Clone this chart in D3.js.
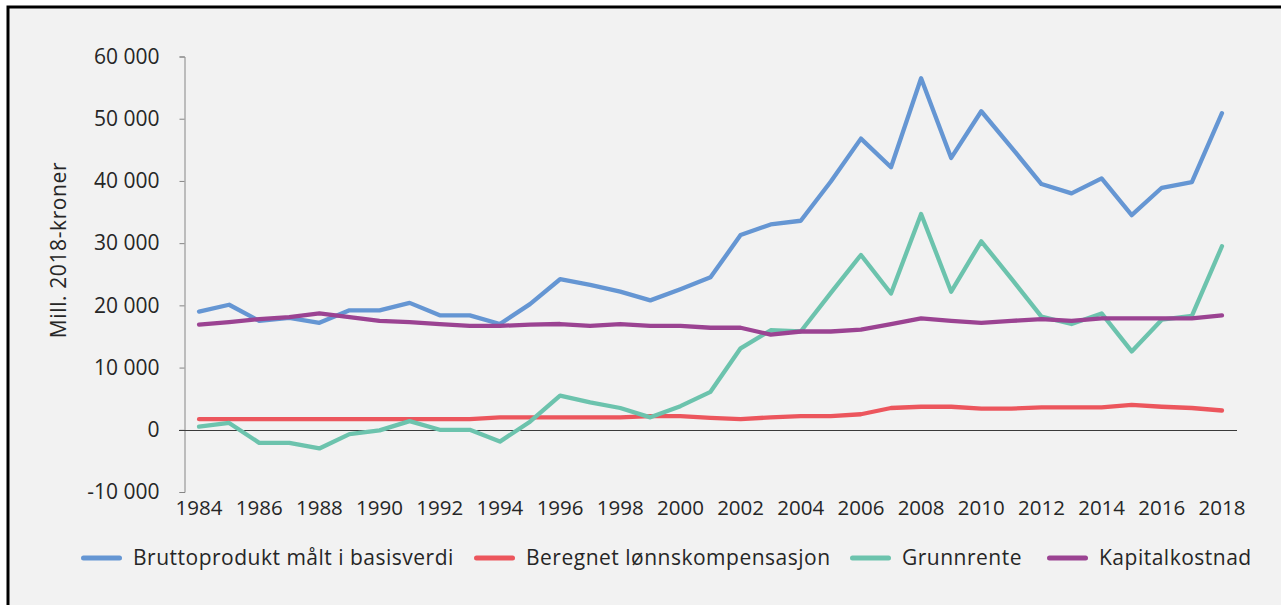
<!DOCTYPE html>
<html>
<head>
<meta charset="utf-8">
<script src="https://cdn.jsdelivr.net/npm/d3@7"></script>
<style>
  html,body{margin:0;padding:0;background:#fff;}
  svg{display:block;}
</style>
</head>
<body>
<div id="chart"></div>
<script>
// ---------------- data (Mill. 2018-kroner) ----------------
var years = d3.range(1984, 2019);
var brutto = [19000,20100,17500,18000,17200,19200,19200,20400,18400,18400,17000,20200,24200,23300,22200,20800,22600,24500,31300,33000,33600,39900,46800,42200,56500,43700,51200,45400,39500,38000,40400,34500,38900,39800,50900];
var lonn = [1700,1700,1700,1700,1700,1700,1700,1700,1700,1700,2000,2000,2000,2000,2000,2200,2200,1900,1700,2000,2200,2200,2500,3500,3700,3700,3400,3400,3600,3600,3600,4000,3700,3500,3100];
var grunnrente = [500,1100,-2100,-2100,-3000,-700,-100,1400,0,0,-1900,1300,5500,4400,3500,2000,3800,6100,13100,16000,15800,22000,28100,21900,34700,22200,30300,24300,18200,17000,18700,12600,17700,18300,29500];
var kapital = [16900,17300,17800,18100,18700,18100,17500,17300,17000,16700,16700,16900,17000,16700,17000,16700,16700,16400,16400,15300,15800,15800,16100,17000,17900,17500,17200,17500,17800,17500,17900,17900,17900,17900,18400];
var seriesNames = ['Bruttoprodukt målt i basisverdi','Beregnet lønnskompensasjon','Grunnrente','Kapitalkostnad'];
var seriesColors = ['#6596d3','#ec565d','#6cc3ad','#9b4392'];
var yTicks = [-10000,0,10000,20000,30000,40000,50000,60000];
var xLabelYears = d3.range(1984, 2019, 2);

var W=1281, H=605;
var FONT='"Open Sans", "Noto Sans", sans-serif';

var oSvg=d3.select('#chart').append('svg')
	.attr('width',W).attr('height',H)
	.attr('font-family',FONT);

// panel background + left/top border
oSvg.append('rect').attr('x',8).attr('y',7).attr('width',W-8).attr('height',H-7).attr('fill','#f2f2f2');
oSvg.append('path').attr('d','M8 '+H+'V7H'+W).attr('fill','none').attr('stroke','#000').attr('stroke-width',3);

var x=d3.scalePoint().domain(years).range([184,1237]).padding(0.5);
var y=d3.scaleLinear().domain([-10000,60000]).range([492,56.5]);

var fmt=function(v){
	return d3.format(',')(v).replace(/,/g,' ').replace('\u2212','-');
};

// y axis
var gY=oSvg.append('g').attr('transform','translate(184.5,0)')
	.call(d3.axisLeft(y).tickValues(yTicks).tickSize(5).tickPadding(20).tickFormat(fmt));
gY.select('.domain').attr('stroke','#868686');
gY.selectAll('.tick line').attr('stroke','#868686');
gY.selectAll('.tick text').attr('font-family',FONT).attr('font-size','21px').attr('fill','#262626');

// zero line / x axis
oSvg.append('line')
	.attr('x1',179).attr('x2',1237)
	.attr('y1',Math.round(y(0))+0.5).attr('y2',Math.round(y(0))+0.5)
	.attr('stroke','#3a3a3a').attr('stroke-width',1);

// x labels
oSvg.append('g').selectAll('text').data(xLabelYears).enter().append('text')
	.attr('x',function(d){return x(d);})
	.attr('y',515)
	.attr('text-anchor','middle')
	.attr('font-size','20.5px').attr('fill','#262626')
	.text(function(d){return d;});

// y title
oSvg.append('text')
	.attr('transform','translate(66,250) rotate(-90)')
	.attr('text-anchor','middle')
	.attr('font-size','21px').attr('letter-spacing','0.6px').attr('fill','#262626')
	.text('Mill. 2018-kroner');

// lines
var allSeries=[brutto,lonn,grunnrente,kapital];
var line=d3.line().x(function(d,i){return x(years[i]);}).y(function(d){return y(d);});
// draw order: red, teal, blue, purple
[1,2,0,3].forEach(function(k){
	oSvg.append('path').datum(allSeries[k])
		.attr('d',line)
		.attr('fill','none')
		.attr('stroke',seriesColors[k])
		.attr('stroke-width',4.3)
		.attr('stroke-linejoin','round')
		.attr('stroke-linecap','round');
});

// legend
var legX=[81,474,850,1047];
var gLeg=oSvg.append('g');
seriesNames.forEach(function(n,k){
	gLeg.append('line')
		.attr('x1',legX[k]+2.5).attr('x2',legX[k]+38.5)
		.attr('y1',558).attr('y2',558)
		.attr('stroke',seriesColors[k]).attr('stroke-width',5).attr('stroke-linecap','round');
	gLeg.append('text')
		.attr('x',legX[k]+52).attr('y',565)
		.attr('font-size','21px').attr('letter-spacing','0.5px').attr('fill','#262626')
		.text(n);
});
</script>
</body>
</html>
